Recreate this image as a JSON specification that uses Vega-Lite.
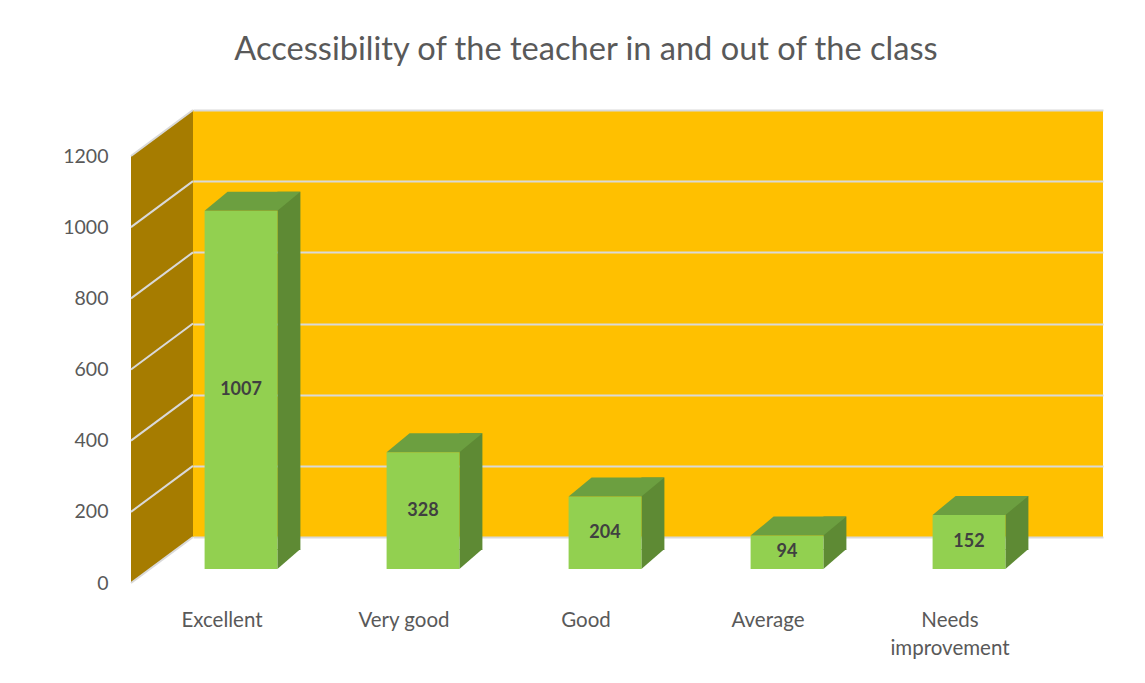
{
  "$schema": "https://vega.github.io/schema/vega-lite/v6.json",
  "width": 910,
  "height": 427,
  "autosize": "none",
  "padding": {"left": 193, "top": 110, "right": 42, "bottom": 146},
  "background": "white",
  "config": {
    "view": {"fill": "#FFC000", "stroke": null},
    "font": "Lato"
  },
  "title": {
    "text": "Accessibility of the teacher in and out of the class",
    "fontSize": 32.6,
    "fontWeight": "normal",
    "color": "#595959",
    "font": "Lato",
    "anchor": "middle",
    "frame": "group",
    "dx": -62,
    "dy": 33,
    "baseline": "alphabetic",
    "offset": 49
  },
  "datasets": {
    "bars": [
      {"rating": "Excellent", "count": 1007},
      {"rating": "Very good", "count": 328},
      {"rating": "Good", "count": 204},
      {"rating": "Average", "count": 94},
      {"rating": "Needs improvement", "count": 152}
    ],
    "ticks": [
      {"t": 0}, {"t": 200}, {"t": 400}, {"t": 600}, {"t": 800}, {"t": 1000}, {"t": 1200}
    ]
  },
  "resolve": {"scale": {"x": "independent", "y": "independent"}},
  "layer": [
    {
      "data": {"name": "ticks"},
      "layer": [
        {
          "transform": [{"filter": {"field": "t", "equal": 0}}],
          "mark": {
            "type": "point",
            "shape": "M0,0 L-62,46 L-62,-381 L0,-427 Z",
            "size": 4,
            "filled": true,
            "opacity": 1,
            "color": "#A67C00",
            "strokeWidth": 0
          },
          "encoding": {
            "x": {"datum": 0, "type": "quantitative", "scale": {"domain": [0, 1]}, "axis": null},
            "y": {"field": "t", "type": "quantitative", "scale": {"domain": [0, 1200]}, "axis": null}
          }
        },
        {
          "mark": {"type": "rule", "color": "#D9D9D9", "strokeWidth": 2, "x2Offset": -62, "y2Offset": 46},
          "encoding": {
            "x": {"datum": 0, "type": "quantitative", "scale": {"domain": [0, 1]}, "axis": null},
            "x2": {"datum": 0},
            "y": {"field": "t", "type": "quantitative", "scale": {"domain": [0, 1200]}, "axis": null},
            "y2": {"field": "t"}
          }
        }
      ]
    },
    {
      "data": {"name": "bars"},
      "encoding": {
        "x": {
          "field": "rating",
          "type": "nominal",
          "sort": ["Excellent", "Very good", "Good", "Average", "Needs improvement"],
          "scale": {"paddingInner": 0.6, "paddingOuter": 0.3},
          "axis": {
            "title": null,
            "domain": false,
            "ticks": false,
            "labelAngle": 0,
            "labelOffset": -62,
            "labelPadding": 73,
            "labelFontSize": 20.5,
            "labelColor": "#595959",
            "labelLineHeight": 28,
            "labelBaseline": "top",
            "labelExpr": "datum.value == 'Needs improvement' ? ['Needs', 'improvement'] : datum.label"
          }
        },
        "y": {
          "field": "count",
          "type": "quantitative",
          "scale": {"domain": [0, 1200]},
          "axis": {
            "title": null,
            "values": [0, 200, 400, 600, 800, 1000, 1200],
            "format": "d",
            "domain": false,
            "ticks": false,
            "grid": true,
            "gridColor": "#D9D9D9",
            "gridWidth": 2,
            "labelOffset": 46,
            "labelPadding": 85,
            "labelFontSize": 19.5,
            "labelColor": "#595959"
          }
        }
      },
      "layer": [
        {
          "mark": {"type": "bar", "width": 23, "color": "#5E8A34", "xOffset": 4.9, "yOffset": 13, "y2Offset": 13},
          "encoding": {"y2": {"datum": 0}}
        },
        {
          "mark": {
            "type": "point",
            "shape": "M-6.6,12 L-6.6,32 L16.4,12 Z",
            "size": 4,
            "filled": true,
            "opacity": 1,
            "color": "#5E8A34",
            "strokeWidth": 0
          },
          "encoding": {"y": {"datum": 0, "type": "quantitative"}}
        },
        {
          "mark": {"type": "bar", "color": "#92D050", "xOffset": -43, "x2Offset": -43, "yOffset": 32, "y2Offset": 32},
          "encoding": {"y2": {"datum": 0}}
        },
        {
          "mark": {
            "type": "point",
            "shape": "M-79.4,32 L-6.6,32 L16.4,13 L-56.4,13 Z",
            "size": 4,
            "filled": true,
            "opacity": 1,
            "color": "#6C9F40",
            "strokeWidth": 0
          }
        }
      ]
    },
    {
      "data": {"name": "bars"},
      "mark": {"type": "text", "font": "Lato", "fontWeight": "bold", "fontSize": 18, "color": "#404040", "xOffset": -43, "yOffset": 32, "baseline": "middle"},
      "encoding": {
        "x": {
          "field": "rating",
          "type": "nominal",
          "sort": ["Excellent", "Very good", "Good", "Average", "Needs improvement"],
          "scale": {"paddingInner": 0.6, "paddingOuter": 0.3},
          "axis": null
        },
        "y": {"field": "count", "type": "quantitative", "scale": {"domain": [0, 2400]}, "axis": null},
        "text": {"field": "count", "type": "quantitative"}
      }
    }
  ]
}
